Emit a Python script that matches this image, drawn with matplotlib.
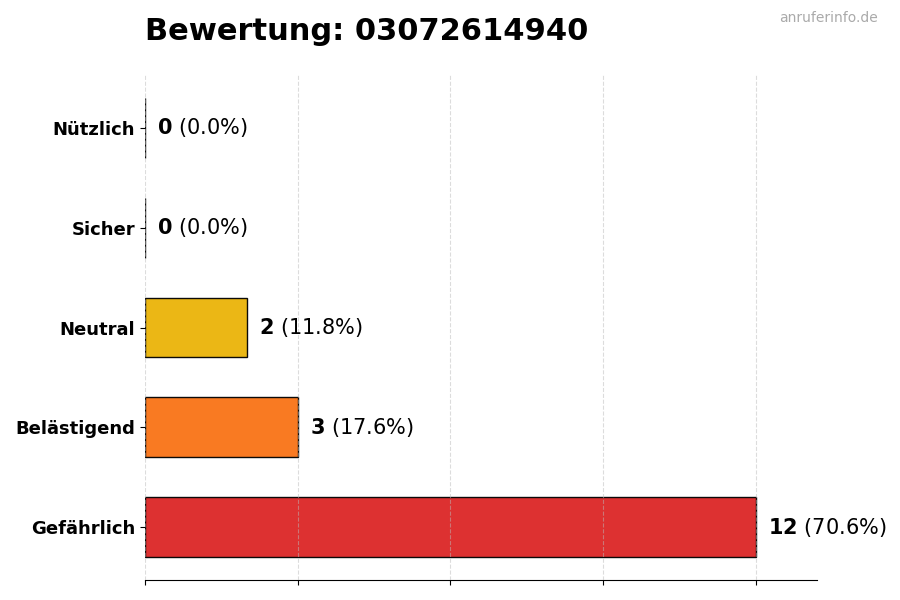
import matplotlib
matplotlib.use("Agg")
from matplotlib import pyplot as plt

# Daten
kategorien = ["Gefährlich", "Belästigend", "Neutral", "Sicher", "Nützlich"]
anzahl = [12, 3, 2, 0, 0]
farben = ["#dc2626", "#f97316", "#eab308", "#22c55e", "#3b82f6"]
nummer = "03072614940"

gesamt = sum(anzahl)
prozent = [100.0 * a / gesamt for a in anzahl]

fig = plt.figure(figsize=(9, 6), dpi=100)
ax = fig.add_axes([0.161, 0.0333, 0.747, 0.8417])

ax.barh(kategorien, anzahl, height=0.6, color=farben, edgecolor="black",
        linewidth=1, alpha=0.95, zorder=2)

maxi = max(anzahl)
ax.set_xlim(0, maxi * 1.1)
ax.set_xticks([0, 3, 6, 9, 12])
ax.set_xticklabels([])
# gitter leicht ueber den balken sichtbar
ax.set_axisbelow(False)
ax.grid(axis="x", linestyle="--", color="#bbbbbb", alpha=0.5, linewidth=0.8)

for s in ["top", "right", "left"]:
    ax.spines[s].set_visible(False)

for lab in ax.get_yticklabels():
    lab.set_fontweight("bold")
    lab.set_fontsize(13)

for i, (a, p) in enumerate(zip(anzahl, prozent)):
    ax.text(a + maxi * 0.02, i, r"$\mathbf{%d}$ (%.1f%%)" % (a, p),
            va="center", ha="left", fontsize=15)

fig.text(0.161, 0.948, "Bewertung: " + nummer, fontsize=22, fontweight="bold",
         ha="left", va="center")
fig.text(0.975, 0.97, "anruferinfo.de", fontsize=10, color="#aaaaaa",
         ha="right", va="center")

plt.savefig("out.png", dpi=100)
